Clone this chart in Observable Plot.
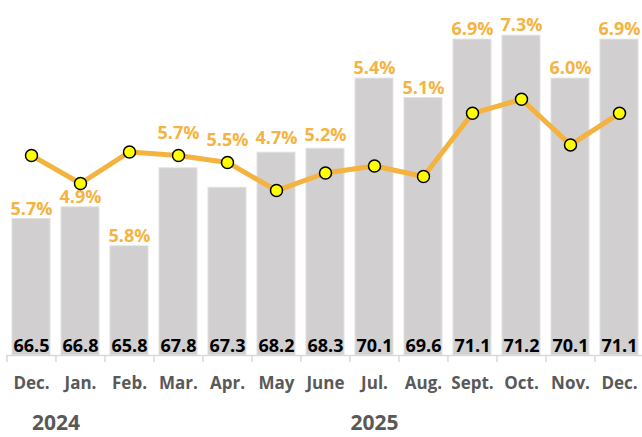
<!DOCTYPE html>
<html><head><meta charset="utf-8">
<script src="https://cdn.jsdelivr.net/npm/d3@7"></script>
<script src="https://cdn.jsdelivr.net/npm/@observablehq/plot@0.6"></script>
<style>body{margin:0;background:#fff;overflow:hidden}</style>
</head><body><div id="chart"></div>
<script>
const months = ["Dec.","Jan.","Feb.","Mar.","Apr.","May","June","Jul.","Aug.","Sept.","Oct.","Nov.","Dec."];
const values = [66.5,66.8,65.8,67.8,67.3,68.2,68.3,70.1,69.6,71.1,71.2,70.1,71.1];
const rates = [5.7,4.9,5.8,5.7,5.5,4.7,5.2,5.4,5.1,6.9,7.3,6.0,6.9];
const years = ["2024","2025"];
const yearAt = [0,7];
// where each rate label sits: above the bar, above the dot, or lifted a bit higher above the bar
const labelPlacement = ["bar","bar","bar","dot","dot","lift","lift","bar","bar","bar","bar","bar","bar"];

const W=642,H=437,mL=6,mR=-3,mT=4,mB=82;
const yMin=63,yMax=72,rateMax=10;
const toY = r => yMin + r*(yMax-yMin)/rateMax;
const step = (W-mL-mR)/months.length;
const keys = months.map((m,i)=>i);
const rows = keys.map(i=>({key:i, month:months[i], value:values[i], rate:rates[i], place:labelPlacement[i]}));
const yearRows = years.map((y,i)=>({key:yearAt[i], year:y}));
const orange="#f4b23e";
const labelColor="#f5b342";
const tickLen = 7*(yMax-yMin)/351;
const pct = d=>d.rate.toFixed(1)+"%";
const labelStyle = {x:"key",text:pct,lineAnchor:"middle",fill:labelColor,fontSize:18,fontWeight:700};

const chart = Plot.plot({
  width:W,height:H,marginLeft:mL,marginRight:mR,marginTop:mT,marginBottom:mB,
  x:{type:"band",domain:keys,paddingInner:0.22,paddingOuter:0.11,axis:null},
  y:{domain:[yMin,yMax],axis:null},
  style:{fontFamily:"'Open Sans', sans-serif",background:"#fff",overflow:"visible"},
  marks:[
    Plot.barY(rows,{x:"key",y1:yMin,y2:"value",fill:"#d1cfd0",stroke:"#e2e1e2",strokeWidth:1}),
    Plot.ruleY([yMin],{stroke:"#d9d9d9",strokeWidth:1.5}),
    Plot.ruleX(rows,{x:"key",y1:yMin,y2:yMin-tickLen,dx:-step/2,stroke:"#d9d9d9",strokeWidth:1.5}),
    Plot.ruleX([rows[rows.length-1]],{x:"key",y1:yMin,y2:yMin-tickLen,dx:step/2,stroke:"#d9d9d9",strokeWidth:1.5}),
    Plot.text(rows.filter(d=>d.place==="bar"),{...labelStyle,y:"value",dy:-10}),
    Plot.text(rows.filter(d=>d.place==="lift"),{...labelStyle,y:"value",dy:-14}),
    Plot.text(rows.filter(d=>d.place==="dot"),{...labelStyle,y:d=>toY(d.rate),dy:-22}),
    Plot.text(rows,{x:"key",text:d=>d.value.toFixed(1),frameAnchor:"bottom",lineAnchor:"middle",dy:-9,fill:"#000",fontSize:18,fontWeight:700}),
    Plot.text(rows,{x:"key",text:"month",frameAnchor:"bottom",lineAnchor:"middle",dy:28,fill:"#595959",fontSize:17,fontWeight:700}),
    Plot.lineY(rows,{x:"key",y:d=>toY(d.rate),stroke:orange,strokeWidth:5,strokeLinejoin:"round"}),
    Plot.dot(rows,{x:"key",y:d=>toY(d.rate),r:6,fill:"#ffff00",stroke:"#000",strokeWidth:1.5}),
    Plot.text(yearRows.slice(0,1),{x:"key",text:"year",frameAnchor:"bottom",lineAnchor:"middle",dy:68,dx:step/2,fill:"#595959",fontSize:21,fontWeight:700}),
    Plot.text(yearRows.slice(1),{x:"key",text:"year",frameAnchor:"bottom",lineAnchor:"middle",dy:68,fill:"#595959",fontSize:21,fontWeight:700})
  ]
});
document.getElementById("chart").append(chart);
</script>
</body></html>
